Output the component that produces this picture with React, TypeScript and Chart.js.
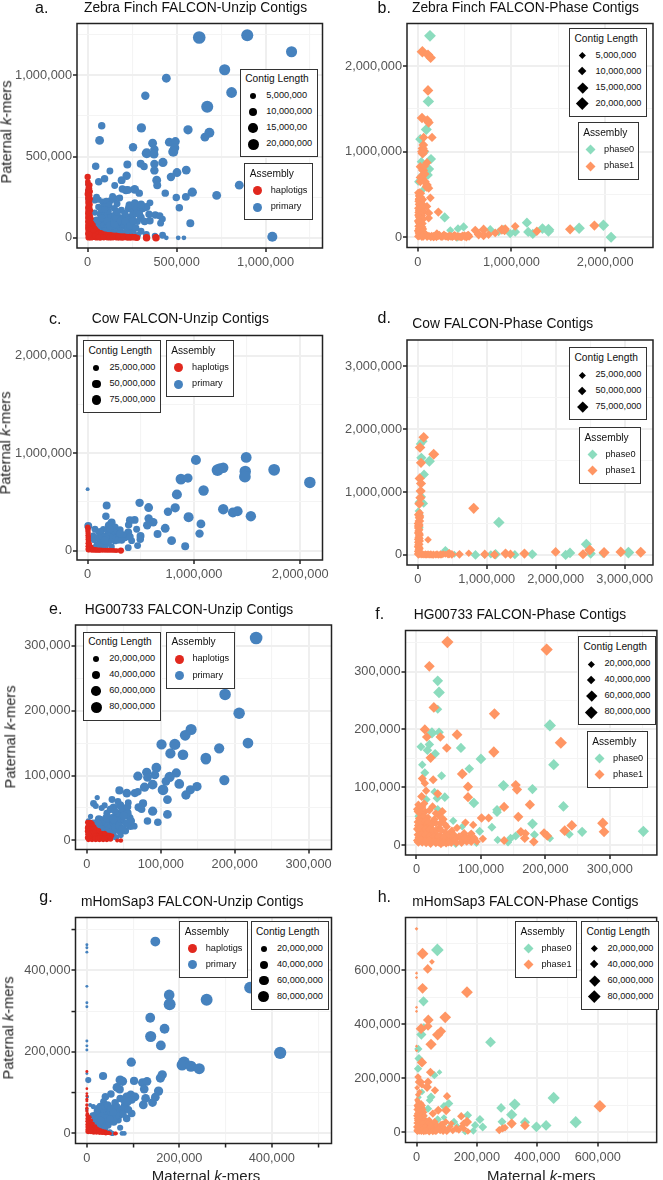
import React, { useEffect, useRef } from "react";
import Chart from "chart.js/auto";

type P = number[];
// every point: [maternal k-mers (thousands), paternal k-mers (thousands), contig length (Mb)]
const zebraUnzipHaplotigs: P[] = [[0,375,4],[1,345,3],[2,330,3],[4,310,3],[3,290,4],[2,270,5],[6,262,4],[1,245,3],[3,230,3],[2,215,3],[4,200,3],[1,185,3],[5,175,3],[2,165,3],[3,150,4],[6,140,3],[2,130,3],[4,120,4],[8,110,3],[3,100,4],[10,95,3],[5,85,4],[15,80,3],[2,75,3],[8,70,4],[20,65,3],[3,60,4],[12,55,4],[25,50,3],[5,45,4],[35,45,3],[18,40,4],[45,38,3],[8,35,4],[28,30,4],[55,28,3],[3,25,4],[40,22,4],[70,22,3],[15,20,4],[60,15,4],[85,14,3],[25,12,4],[100,12,3],[45,10,4],[75,8,4],[120,10,3],[8,8,4],[35,5,4],[95,5,4],[110,3,4],[130,4,4],[150,3,3],[165,2,4],[180,2,4],[195,1,4],[210,2,3],[225,1,4],[240,1,4],[255,1,3],[268,1,4],[278,0,4],[331,0,6],[384,0,6],[5,2,4],[20,2,4],[50,2,4],[70,1,4],[90,1,3],[135,12,3],[155,10,3],[12,325,3],[10,305,3],[14,285,3],[11,262,3],[14,240,3],[10,222,3],[13,205,3],[11,188,3],[15,170,3],[10,152,3],[14,135,3],[18,120,3],[15,102,3],[22,90,3],[30,78,3],[26,62,3],[38,60,3],[20,50,3],[45,50,3],[30,42,3],[55,40,3],[65,32,3],[75,30,3],[50,22,3],[85,24,3],[100,22,3],[30,18,3],[115,18,3],[75,15,3],[130,18,3],[145,15,3],[160,15,3],[175,12,3],[190,10,3],[205,10,3],[220,8,3],[235,8,3],[250,7,3],[265,6,3],[10,20,3],[40,12,3],[60,5,3],[85,4,3],[125,2,4],[142,3,4],[170,7,3],[200,6,3],[230,5,3],[260,3,3]];
const zebraUnzipPrimary: P[] = [[627,1234,20],[897,1248,18],[1146,1146,15],[770,1035,15],[442,983,9],[324,875,8],[809,895,14],[672,807,18],[79,690,6],[302,677,10],[67,600,9],[564,665,10],[684,647,12],[659,620,9],[255,558,8],[365,583,9],[459,589,9],[493,593,9],[489,554,10],[481,530,12],[375,544,8],[332,521,12],[373,515,9],[223,452,7],[45,441,6],[298,456,7],[317,439,6],[375,454,8],[423,464,10],[375,415,8],[502,402,9],[554,417,9],[468,374,8],[125,411,5],[219,382,8],[191,355,7],[95,363,6],[62,345,6],[152,322,5],[388,355,9],[391,324,7],[852,324,9],[264,298,9],[215,293,7],[290,275,6],[436,275,6],[588,281,10],[552,252,7],[498,248,6],[725,261,9],[515,185,6],[577,90,7],[1038,6,12],[421,16,5],[442,0,2],[509,0,2],[541,0,2],[378,12,4],[130,230,5],[40,230,4],[62,235,4],[85,220,5],[105,225,5],[150,240,6],[180,245,5],[60,190,4],[90,195,4],[120,200,5],[150,180,5],[190,170,5],[230,180,6],[250,170,5],[270,190,7],[290,165,6],[310,180,6],[330,190,7],[350,215,5],[380,140,6],[405,135,6],[420,115,5],[300,125,6],[320,100,6],[240,130,5],[255,140,6],[275,150,6],[295,135,5],[40,155,4],[70,145,5],[100,150,6],[105,125,7],[130,135,5],[155,140,6],[180,125,5],[205,120,7],[225,110,5],[50,110,5],[75,100,6],[95,95,7],[120,90,7],[145,105,6],[170,85,7],[190,95,5],[205,75,6],[250,90,6],[65,75,6],[85,70,6],[110,60,7],[140,65,6],[165,55,6],[185,45,5],[250,50,6],[255,30,5],[300,40,5],[330,20,5],[15,65,4],[20,40,5],[25,20,4],[35,55,4],[45,35,5],[60,45,6],[90,35,5],[120,30,5],[190,25,5],[100,45,5],[130,50,5],[155,35,5],[10,15,3],[60,15,3],[2,330,3],[3,290,4],[2,240,3],[30,100,6],[45,85,6],[55,60,6],[80,120,6],[110,105,6],[125,75,7],[150,85,7],[160,120,6],[185,105,6],[210,100,6],[225,60,6],[240,75,6],[270,60,6],[280,100,5],[130,20,5],[165,25,5],[215,35,5],[75,175,5],[115,165,6],[165,160,6],[210,150,5],[235,200,7],[265,215,6],[300,205,7],[290,145,6],[165,210,5],[140,255,5],[195,300,6],[225,295,7],[345,145,6],[350,105,6],[410,90,5],[255,105,6],[210,20,5],[280,15,5],[230,25,5],[95,175,5],[50,250,5]];
const zebraPhase0: P[] = [[131,2356,14],[114,1589,13],[92,1260,12],[28,1147,10],[142,915,10],[124,798,9],[110,729,9],[5,650,6],[39,884,8],[288,232,10],[1165,170,10],[1179,62,10],[1228,39,10],[1331,101,11],[1395,89,14],[1395,70,12],[1722,105,13],[1981,140,13],[2063,0,12],[490,120,8],[430,100,7],[348,81,6],[419,-4,6],[774,89,8],[863,62,7],[1040,62,9],[987,43,8],[916,89,8],[60,560,5],[20,500,5],[40,720,6],[80,1000,6]];
const zebraPhase1: P[] = [[50,2170,13],[110,2135,11],[138,2100,11],[110,1717,11],[46,1395,11],[103,1368,10],[117,1341,10],[153,1167,8],[64,1167,8],[53,1039,10],[53,980,10],[99,872,8],[28,825,8],[53,787,8],[46,709,9],[28,651,8],[99,612,9],[117,574,8],[135,461,7],[220,295,8],[117,283,8],[99,360,7],[117,225,7],[614,81,8],[703,89,10],[650,31,9],[703,23,9],[756,31,7],[827,50,7],[898,89,10],[934,97,8],[927,78,8],[1040,128,7],[1271,70,8],[1626,93,10],[1885,136,10],[20,530,5],[8,490,4],[35,470,6],[12,440,6],[30,410,5],[5,385,4],[25,360,6],[45,330,6],[10,310,5],[30,280,6],[50,250,5],[15,230,6],[35,200,6],[8,170,5],[25,150,6],[50,120,6],[15,100,7],[30,75,7],[70,55,5],[10,60,6],[40,35,7],[90,30,6],[20,20,7],[60,10,7],[120,15,6],[150,20,5],[185,15,6],[205,45,6],[220,15,6],[250,5,6],[280,30,6],[310,10,6],[340,20,6],[370,5,6],[395,25,6],[425,12,6],[455,5,6],[480,20,6],[505,8,6],[530,18,7],[548,10,7],[5,10,6],[3,260,5],[60,440,5],[70,300,5],[2,450,3],[5,520,6],[40,515,5],[15,480,6],[45,430,6],[8,420,6],[50,390,6],[20,380,7],[40,350,6],[5,340,6],[20,320,7],[55,300,6],[8,290,6],[40,260,6],[12,250,7],[30,225,6],[55,210,7],[5,190,7],[30,175,7],[50,160,7],[10,130,7],[35,120,7],[55,95,7],[25,90,7],[5,75,7],[45,65,7],[70,30,7],[15,40,7],[45,10,8],[100,8,7],[140,5,7],[170,5,7],[200,5,7],[230,25,7],[265,10,7],[295,12,7],[325,5,7],[355,10,7],[385,15,7],[410,5,7],[440,8,7],[470,5,7],[500,15,8],[520,5,8],[540,25,7],[60,780,9],[75,740,9],[30,700,9],[50,680,9],[70,830,8],[95,590,9],[80,650,8],[60,1080,9],[45,1000,9],[70,1010,8],[170,8,8],[205,18,8]];
const cowUnzipHaplotigs: P[] = [[1,240,14],[2,215,12],[1,195,10],[3,175,10],[1,155,10],[3,135,10],[2,115,10],[5,95,10],[12,85,6],[2,75,10],[6,60,10],[20,55,6],[2,45,10],[10,35,10],[30,30,6],[5,20,12],[22,15,10],[45,12,8],[12,5,10],[35,4,10],[60,5,10],[80,3,10],[100,3,10],[120,2,10],[140,3,10],[160,2,10],[180,2,10],[200,2,10],[220,2,10],[240,2,10],[258,1,10],[275,1,10],[313,1,20],[8,225,8],[7,205,8],[9,185,8],[8,165,8],[10,145,8],[9,125,8],[12,105,8],[10,85,8],[20,75,8],[15,65,8],[25,45,8],[35,40,8],[15,22,8],[40,20,8],[55,18,8],[70,15,8],[85,12,8],[105,10,8],[125,10,8],[145,8,8],[165,8,8],[190,7,8],[210,6,8],[235,5,8],[5,10,12],[50,3,10],[70,4,10],[90,4,10],[110,4,10]];
const cowUnzipPrimary: P[] = [[2091,701,81],[1755,831,85],[1492,958,70],[1483,814,80],[1480,760,85],[1019,931,60],[1222,828,85],[1276,852,65],[1245,842,70],[878,735,70],[944,746,50],[840,577,60],[1091,618,65],[824,440,50],[756,399,40],[1276,426,65],[1367,392,60],[1411,405,60],[1536,354,65],[950,344,60],[1066,275,45],[1053,175,40],[730,230,45],[790,103,45],[918,45,35],[658,172,35],[574,443,45],[489,491,40],[179,464,35],[172,354,30],[574,330,40],[618,292,40],[561,261,40],[442,316,35],[398,313,35],[386,265,30],[461,220,25],[498,151,35],[495,117,30],[470,52,25],[382,31,25],[0,632,6],[226,289,35],[201,258,40],[257,241,30],[304,213,30],[273,172,30],[219,175,30],[122,186,25],[69,220,25],[6,254,35],[100,196,20],[147,220,20],[304,144,35],[351,134,30],[382,186,35],[414,103,25],[398,144,30],[257,100,25],[210,110,30],[147,82,25],[116,93,25],[85,58,20],[53,161,15],[163,155,20],[226,41,20],[132,41,20],[194,76,25],[40,130,25],[60,110,20],[90,140,20],[110,120,25],[130,150,25],[175,130,30],[195,190,25],[160,105,30],[240,140,30],[265,125,30],[285,110,30],[320,110,30],[335,165,25],[305,175,30],[240,205,25],[95,60,20],[170,35,15],[60,35,15],[120,200,20],[180,215,25],[210,220,30]];
const cowPhase0: P[] = [[73,1809,45],[39,1767,40],[53,1545,50],[169,1492,60],[92,1280,45],[53,926,40],[87,820,35],[5,840,20],[24,434,35],[1176,518,65],[402,74,35],[837,0,45],[1128,11,55],[1408,5,40],[1660,11,50],[2144,0,50],[2207,32,55],[2444,169,60],[2507,21,50],[3054,37,70],[2686,21,35],[970,3,30],[530,10,20],[1060,10,30],[30,650,25],[10,700,25],[340,20,20]];
const cowPhase1: P[] = [[87,1873,55],[34,1709,55],[232,1603,60],[48,1465,50],[29,1217,50],[48,1137,50],[43,1016,50],[39,910,50],[24,815,50],[29,619,40],[24,540,45],[15,460,45],[24,317,40],[24,222,40],[150,243,25],[812,741,60],[740,26,25],[605,11,35],[459,21,40],[972,11,40],[1113,5,40],[1273,21,50],[1345,11,40],[1547,21,50],[1999,48,45],[2396,11,50],[2493,79,60],[2701,37,60],[2943,48,55],[3232,42,60],[10,380,30],[15,280,35],[8,160,30],[20,120,35],[12,80,30],[25,40,35],[10,15,40],[50,8,30],[90,3,25],[130,5,25],[170,4,25],[208,0,25],[260,3,25],[305,0,25],[350,4,25],[400,10,20],[20,590,35],[10,500,30],[30,670,30],[8,640,35],[30,590,35],[5,500,35],[22,480,35],[5,430,30],[25,400,30],[8,350,35],[25,340,30],[8,250,35],[28,260,30],[5,200,30],[22,170,35],[6,130,35],[25,100,35],[8,55,35],[25,20,35],[70,12,30],[110,8,30],[150,8,30],[190,10,30],[230,6,30],[280,8,30],[330,8,30],[370,15,25],[440,12,35],[495,8,35]];
const hgUnzipHaplotigs: P[] = [[2,26,8],[6,24,8],[1,22,8],[5,20,8],[10,21,7],[2,17,8],[7,16,8],[12,18,7],[3,13,8],[9,12,8],[15,14,8],[1,9,8],[6,9,8],[12,9,8],[18,10,8],[24,10,7],[30,8,6],[3,5,8],[8,5,8],[14,5,8],[20,5,8],[26,5,8],[32,5,6],[2,1,8],[7,1,8],[12,1,8],[17,1,8],[22,1,8],[27,1,8],[30,2,6],[41,0,5],[46,0,7],[1,28,10],[5,28,10],[3,25,12],[7,26,10],[1,19,12],[4,22,12],[8,22,10],[11,15,12],[3,18,12],[6,18,12],[9,18,12],[14,12,12],[16,15,10],[1,14,12],[4,15,12],[7,13,12],[10,12,12],[13,8,12],[16,7,12],[19,7,12],[22,7,12],[25,8,12],[28,8,10],[31,8,8],[1,4,12],[4,3,12],[7,7,12],[10,7,12],[5,11,12],[11,3,12],[15,3,12],[18,3,12],[21,4,12],[24,3,12],[28,4,12],[31,4,12],[2,10,12],[20,11,10],[24,11,10],[32,2,10],[34,7,8]];
const hgUnzipPrimary: P[] = [[229,312,80],[187,225,65],[206,196,65],[218,150,55],[141,171,60],[133,162,55],[101,148,50],[119,148,60],[113,134,50],[130,132,55],[179,142,50],[161,127,55],[161,125,50],[186,93,50],[94,112,45],[81,105,40],[69,99,40],[82,97,35],[92,101,35],[121,104,40],[112,98,50],[107,91,35],[125,87,45],[89,86,45],[78,82,40],[103,78,55],[140,78,40],[134,70,40],[149,83,40],[44,77,30],[54,73,35],[65,73,30],[69,75,25],[109,63,35],[76,57,30],[34,63,20],[14,66,10],[56,58,20],[9,57,20],[12,53,15],[24,54,15],[20,50,15],[36,51,25],[45,54,30],[70,51,30],[74,48,25],[89,45,40],[109,40,35],[82,30,25],[96,28,25],[52,44,40],[40,38,30],[58,35,25],[47,31,30],[59,22,25],[52,15,25],[45,13,20],[5,37,10],[16,33,25],[34,35,25],[54,26,30],[2,30,10],[30,25,25],[42,24,25],[25,20,25],[36,14,25],[20,25,20],[12,28,15],[43,42,25],[30,30,25],[38,5,12],[8,27,20],[14,22,25],[18,32,25],[22,28,25],[26,35,25],[28,22,25],[32,20,25],[36,27,25],[38,20,25],[40,30,25],[44,22,25],[48,18,25],[16,25,25],[24,16,25],[20,17,25],[30,12,25],[35,10,20],[27,42,20],[32,48,25],[42,60,20],[48,48,25],[55,42,30],[50,38,30],[38,45,20],[60,30,25],[64,22,20],[46,8,12],[40,5,12],[55,52,25],[36,32,25]];
const hgPhase0: P[] = [[33,284,45],[35,264,55],[33,235,30],[24,194,50],[35,195,35],[20,174,35],[7,170,30],[17,164,35],[29,158,35],[69,168,40],[100,149,45],[207,207,60],[213,139,50],[9,139,25],[13,125,30],[82,132,35],[39,120,30],[135,103,50],[180,97,40],[89,73,45],[228,67,45],[44,83,35],[28,92,25],[32,81,30],[15,79,30],[33,62,25],[125,61,35],[125,57,35],[57,42,25],[117,31,30],[180,37,45],[183,18,30],[257,23,40],[237,19,30],[352,24,50],[207,12,25],[126,9,25],[146,12,30],[154,16,30],[142,5,25],[98,24,30],[93,2,10],[61,1,15],[71,32,20],[30,25,20],[2,50,15],[18,10,15]];
const hgPhase1: P[] = [[48,351,60],[202,338,60],[20,309,45],[27,238,45],[121,227,50],[13,200,40],[16,187,35],[37,187,35],[63,191,45],[47,168,35],[22,151,40],[120,161,50],[224,177,60],[71,123,45],[9,115,30],[13,107,25],[26,113,30],[15,94,25],[8,84,30],[33,89,30],[80,101,40],[80,83,40],[154,104,40],[156,96,40],[176,70,40],[136,66,40],[158,49,40],[101,47,35],[112,47,30],[40,58,30],[25,67,25],[241,34,45],[230,25,45],[289,38,50],[291,23,45],[76,39,25],[88,35,25],[162,23,35],[169,20,30],[168,12,35],[182,6,35],[198,21,35],[203,16,35],[136,8,30],[103,11,25],[3,70,25],[6,64,30],[2,58,25],[8,52,25],[14,58,20],[4,46,25],[11,44,25],[18,48,20],[26,42,25],[3,34,30],[9,35,30],[16,36,25],[22,30,25],[35,30,25],[47,32,25],[5,24,30],[12,24,30],[19,22,30],[28,20,30],[37,16,30],[45,22,25],[55,25,25],[63,30,25],[4,13,30],[10,14,30],[17,12,30],[24,11,30],[32,9,30],[40,8,30],[48,10,30],[56,12,25],[66,15,25],[74,20,30],[82,14,30],[90,12,25],[3,5,30],[9,5,30],[15,4,30],[22,3,30],[30,4,30],[38,2,25],[46,3,25],[54,4,25],[70,4,25],[78,6,25],[42,45,25],[1,62,25],[5,58,25],[9,66,25],[12,50,25],[2,40,25],[7,40,25],[14,42,25],[19,40,25],[24,36,25],[30,38,25],[37,38,25],[44,36,25],[1,28,25],[7,30,25],[14,28,25],[20,27,25],[26,26,25],[32,26,25],[38,26,25],[50,18,25],[58,18,25],[2,18,25],[8,19,25],[14,18,25],[20,16,25],[27,15,25],[34,15,25],[42,14,25],[60,10,25],[70,10,25],[78,12,25],[85,20,25],[1,8,25],[7,9,25],[13,8,25],[19,8,25],[26,7,25],[34,5,25],[42,5,25],[50,5,25],[62,4,25],[75,12,25],[94,6,20],[85,5,20],[36,50,25],[30,55,25],[20,60,25],[12,72,25],[28,45,25]];
const homUnzipHaplotigs: P[] = [[0,152,2],[0,110,1.5],[0,98,1.5],[0,92,2],[0,70,3],[0,62,3],[1,48,4],[3,42,5],[1,36,5],[5,34,5],[2,28,5],[8,26,5],[1,22,5],[5,20,5],[12,18,5],[3,14,5],[9,14,5],[16,12,5],[1,9,5],[6,8,5],[12,7,5],[20,8,5],[3,3,5],[9,3,5],[15,2,5],[21,2,5],[27,2,5],[32,2,5],[38,1,5],[44,1,5],[61,0,5],[63,0,4],[26,5,5],[1,44,5],[6,40,5],[3,32,5],[9,32,5],[13,24,5],[1,30,5],[18,18,5],[22,12,5],[26,10,5],[30,8,5],[35,6,5],[40,5,5],[5,27,5],[10,22,5],[15,14,5],[19,12,5],[3,20,5],[7,14,5],[11,10,5],[24,6,5],[30,4,5],[36,3,5],[42,3,5],[46,2,5],[1,16,5],[1,4,5],[5,4,5],[12,3,5],[17,6,5],[4,10,5],[8,6,5],[28,2,5],[34,1,5],[41,0,5],[47,1,5],[50,0,4],[0,55,3],[0,80,2],[0,84,2]];
const homUnzipPrimary: P[] = [[418,198,75],[148,471,45],[353,358,70],[259,328,70],[178,340,55],[179,317,70],[137,284,45],[138,238,60],[168,257,45],[160,216,45],[96,175,40],[210,174,70],[206,168,60],[225,165,60],[243,159,60],[35,141,30],[3,131,15],[163,144,40],[159,136,40],[72,131,40],[77,128,40],[102,129,30],[120,125,35],[130,128,35],[124,109,35],[65,113,35],[71,108,30],[155,104,40],[127,86,35],[148,89,35],[142,76,35],[122,70,35],[95,94,40],[86,90,35],[104,90,35],[97,82,25],[72,86,25],[52,97,25],[40,90,25],[61,75,25],[83,70,35],[76,59,30],[97,49,25],[86,37,25],[65,53,25],[54,41,25],[68,33,20],[36,78,20],[29,66,25],[43,57,25],[14,66,10],[7,70,5],[0,59,3],[1,90,3],[55,0,10],[72,14,15],[76,0,8],[81,0,8],[50,4,10],[18,37,20],[25,45,25],[32,37,30],[43,29,25],[22,20,20],[36,16,15],[30,55,25],[47,45,25],[0,463,2],[0,456,2],[0,445,2],[0,361,2],[0,321,2],[0,311,2],[0,227,2],[0,215,2],[0,205,2],[0,147,2],[12,30,15],[20,28,20],[28,25,25],[35,28,25],[38,45,25],[25,38,25],[18,45,20],[30,45,25],[40,38,25],[48,28,20],[28,18,20],[46,20,20],[40,8,15],[58,28,25],[62,42,25],[70,45,25],[35,60,25],[22,55,20],[38,68,25],[45,70,25],[52,62,25],[78,48,25],[90,58,25],[80,82,25],[88,78,30],[65,65,25],[57,52,25],[20,35,20],[12,45,12],[33,5,10],[38,15,15],[30,32,25],[50,35,25],[25,62,20]];
const homPhase0: P[] = [[69,675,65],[23,485,40],[245,334,45],[16,362,40],[24,389,25],[6,309,25],[8,274,30],[5,236,25],[76,223,10],[59,212,25],[454,128,60],[325,104,55],[280,91,35],[315,66,50],[283,40,30],[359,38,40],[397,21,45],[429,26,45],[527,38,60],[107,107,30],[91,97,25],[48,131,30],[43,119,20],[38,88,25],[169,64,30],[210,48,30],[219,20,30],[194,27,25],[188,6,20],[124,39,25],[70,48,25],[91,55,15],[161,2,15],[18,150,15],[8,130,10],[25,60,15],[30,15,15],[45,8,15],[65,22,15],[80,6,10],[3,60,10],[14,12,10],[110,25,10],[135,25,10]];
const homPhase1: P[] = [[20,661,55],[37,605,35],[51,631,10],[20,533,45],[167,519,55],[95,426,55],[39,416,45],[38,393,30],[15,384,45],[81,374,40],[70,361,50],[48,326,50],[18,259,40],[46,223,30],[5,205,20],[11,187,40],[38,187,30],[35,168,35],[61,156,25],[101,134,25],[98,82,35],[72,82,30],[54,70,25],[0,753,3],[0,589,2],[0,573,2],[0,463,2],[0,448,2],[0,319,2],[0,303,2],[607,97,65],[148,60,25],[167,39,40],[156,33,25],[315,33,40],[359,26,35],[274,9,25],[285,15,25],[293,18,20],[115,33,15],[132,15,25],[156,15,20],[97,39,20],[81,27,30],[59,27,30],[38,21,30],[5,115,12],[12,105,15],[3,95,15],[10,85,20],[18,92,15],[25,75,15],[4,70,20],[12,62,20],[20,50,20],[5,45,25],[14,35,25],[28,30,25],[4,22,25],[12,14,25],[22,10,25],[34,8,25],[48,12,25],[62,6,25],[76,15,25],[88,5,20],[102,8,20],[3,5,20],[120,6,15],[170,4,15],[42,45,20],[2,120,12],[7,110,15],[15,108,15],[1,100,15],[7,98,15],[14,98,20],[20,100,15],[2,85,20],[8,78,20],[16,78,20],[22,85,15],[1,62,20],[7,60,20],[18,65,20],[26,62,15],[3,52,20],[10,50,20],[16,42,20],[26,45,20],[34,42,20],[2,35,20],[8,30,20],[20,32,20],[38,35,20],[48,30,20],[60,40,20],[1,20,20],[7,16,20],[18,18,20],[28,18,20],[38,12,20],[48,22,20],[58,15,20],[68,25,20],[2,8,20],[9,6,20],[16,5,20],[24,4,20],[30,6,20],[42,3,20],[54,4,20],[66,6,20],[78,8,20],[90,18,20],[105,12,20],[112,22,15],[140,8,15],[150,22,15],[86,30,20],[70,12,20],[100,3,15],[5,140,12],[10,150,12],[2,165,10],[18,175,15]];

const COLORS = { haplotigs: "#E1281E", primary: "#4682BE", phase0: "#8CDCBE", phase1: "#FF9664" };
const assemblyUnzip = ["haplotigs", "primary"];
const assemblyPhase = ["phase0", "phase1"];
const legendZebra = [5, 10, 15, 20];
const legendCow = [25, 50, 75];
const legendHuman = [20, 40, 60, 80];
const fmt = (n: number) => n.toLocaleString("en-US");

const PANELS: any[] = [
  { letter: "a.", title: "Zebra Finch FALCON-Unzip Contigs", lx: 35, ly: 8, tx: 84, ty: 7.5, box: [77, 23.5, 322.5, 248], xr: [-60, 1320], yr: [-63, 1320], xMajor: [0, 500, 1000], xMinor: [250, 750, 1250], yMajor: [0, 500, 1000], yMinor: [250, 750, 1250], top: zebraUnzipHaplotigs, bottom: zebraUnzipPrimary, kinds: assemblyUnzip, maxLen: 20, sizes: [68.7, 240, 77.5, 88.5], sizeVals: legendZebra, labelOverride: { 15: "15,000,00" }, asm: [163.3, 244.3, 69, 56.7], yTitle: [7, 132] },
  { letter: "b.", title: "Zebra Finch FALCON-Phase Contigs", lx: 377.5, ly: 8, tx: 412, ty: 7.5, box: [407, 23.5, 653, 247.5], xr: [-114, 2510], yr: [-120, 2500], xMajor: [0, 1000, 2000], xMinor: [500, 1500, 2500], yMajor: [0, 1000, 2000], yMinor: [500, 1500, 2500], top: zebraPhase1, bottom: zebraPhase0, kinds: assemblyPhase, maxLen: 20, sizes: [28, 569.3, 77.7, 89], sizeVals: legendZebra, asm: [122.3, 577.7, 61.6, 57.7] },
  { letter: "c.", title: "Cow FALCON-Unzip Contigs", lx: 49, ly: 319, tx: 91.7, ty: 319.3, box: [77, 335.5, 322.5, 560], xr: [-100, 2210], yr: [-96, 2210], xMajor: [0, 1000, 2000], xMinor: [500, 1500], yMajor: [0, 1000, 2000], yMinor: [500, 1500], top: cowUnzipHaplotigs, bottom: cowUnzipPrimary, kinds: assemblyUnzip, maxLen: 100, sizes: [340.3, 83.3, 78, 73], sizeVals: legendCow, asm: [340.3, 165.7, 68.6, 57], yTitle: [6, 443] },
  { letter: "d.", title: "Cow FALCON-Phase Contigs", lx: 377.5, ly: 318.3, tx: 412.3, ty: 324, box: [407, 340, 653, 565], xr: [-155, 3410], yr: [-160, 3420], xMajor: [0, 1000, 2000, 3000], xMinor: [500, 1500, 2500], yMajor: [0, 1000, 2000, 3000], yMinor: [500, 1500, 2500], top: cowPhase1, bottom: cowPhase0, kinds: assemblyPhase, maxLen: 100, sizes: [347.3, 569.3, 77.7, 73], sizeVals: legendCow, asm: [427, 579, 61.7, 57.3] },
  { letter: "e.", title: "HG00733 FALCON-Unzip Contigs", lx: 49, ly: 609.3, tx: 84.7, ty: 610, box: [75.5, 625, 331.5, 849.5], xr: [-15.4, 331], yr: [-14, 332], xMajor: [0, 100, 200, 300], xMinor: [50, 150, 250], yMajor: [0, 100, 200, 300], yMinor: [50, 150, 250], top: hgUnzipHaplotigs, bottom: hgUnzipPrimary, kinds: assemblyUnzip, maxLen: 80, sizes: [631.7, 83, 78.3, 89.3], sizeVals: legendHuman, asm: [631.7, 166, 68.7, 57.3], yTitle: [11, 737] },
  { letter: "f.", title: "HG00733 FALCON-Phase Contigs", lx: 375.3, ly: 614.3, tx: 413.7, ty: 615, box: [405.5, 630.5, 662.5, 855], xr: [-17, 373], yr: [-17, 371], xMajor: [0, 100, 200, 300], xMinor: [50, 150, 250, 350], yMajor: [0, 100, 200, 300], yMinor: [50, 150, 250, 350], top: hgPhase1, bottom: hgPhase0, kinds: assemblyPhase, maxLen: 80, sizes: [636.3, 578.3, 77.7, 89], sizeVals: legendHuman, asm: [731, 586.7, 61.6, 57.3] },
  { letter: "g.", title: "mHomSap3 FALCON-Unzip Contigs", lx: 39.3, ly: 897.3, tx: 81, ty: 902.3, box: [75.5, 917.5, 331.5, 1143.5], xr: [-24.6, 529], yr: [-24.6, 530], xMajor: [0, 200, 400], xMinor: [100, 300, 500], yMajor: [0, 200, 400], yMinor: [100, 300, 500], minorTicks: true, top: homUnzipHaplotigs, bottom: homUnzipPrimary, kinds: assemblyUnzip, maxLen: 80, sizes: [921, 250.7, 78, 89], sizeVals: legendHuman, asm: [921, 179.3, 68.4, 57], yTitle: [9, 1028], xTitle: [206, 1174.5] },
  { letter: "h.", title: "mHomSap3 FALCON-Phase Contigs", lx: 377.7, ly: 896.7, tx: 412.3, ty: 902.3, box: [405.5, 917.5, 662.5, 1142.5], xr: [-36.5, 795], yr: [-37, 795], xMajor: [0, 200, 400, 600], xMinor: [100, 300, 500, 700], yMajor: [0, 200, 400, 600], yMinor: [100, 300, 500, 700], top: homPhase1, bottom: homPhase0, kinds: assemblyPhase, maxLen: 80, sizes: [921, 581.3, 77.7, 89], sizeVals: legendHuman, asm: [921, 515, 62, 57.3], xTitle: [541.3, 1174.5] },
];

const FONT = '"Liberation Sans", Arial, sans-serif';
const radius = (len: number, maxLen: number) => 0.5 + 5 * Math.sqrt(len / maxLen);
const DIAMOND = 1.1;
const PLOT_SCALE = 1.15;

function Panel({ p }: { p: any }) {
  const ref = useRef<HTMLCanvasElement>(null);
  const [l, t, r, b] = p.box;
  const phase = p.kinds === assemblyPhase;
  const colLeft = l < 200 ? 0 : 335;
  const colRight = l < 200 ? 380 : 663;
  const cTop = Math.floor(t) - 20;
  const cH = Math.ceil(b) - cTop + 25;
  useEffect(() => {
    const axis = (range: number[], major: number[], minor: number[], isX: boolean) => {
      const isMajor = (v: number) => major.includes(v / 1000);
      return {
        type: "linear",
        min: range[0] * 1000,
        max: range[1] * 1000,
        afterBuildTicks: (s: any) => {
          s.ticks = [...major, ...minor].sort((a, c) => a - c).map((v) => ({ value: v * 1000 }));
        },
        afterFit: (s: any) => {
          if (isX) s.height = cTop + cH - b;
          else s.width = l - colLeft;
        },
        border: { display: false },
        grid: {
          drawOnChartArea: true,
          drawTicks: true,
          tickLength: 4,
          color: (c: any) => (isMajor(c.tick.value) ? "#EFEFEF" : "#F4F4F4"),
          lineWidth: (c: any) => (isMajor(c.tick.value) ? 2 : 1.1),
          tickColor: (c: any) => (isMajor(c.tick.value) || p.minorTicks ? "#222" : "rgba(0,0,0,0)"),
          tickWidth: 1.5,
        },
        ticks: {
          autoSkip: false,
          maxRotation: 0,
          minRotation: 0,
          padding: isX ? 3 : 1,
          color: "#555",
          font: { family: FONT, size: 12.8 },
          callback: (v: number) => (isMajor(v) ? fmt(v) : ""),
        },
      };
    };
    const toPts = (a: P[]) => a.map(([x, y, len]) => ({ x: x * 1000, y: y * 1000, len }));
    const mk = (pts: P[], kind: string) => ({
      label: kind,
      data: toPts(pts),
      backgroundColor: (COLORS as any)[kind],
      borderWidth: 0,
      pointStyle: phase ? "rectRot" : "circle",
      pointRadius: (c: any) => radius(c.raw.len, p.maxLen) * (phase ? DIAMOND : 1) * PLOT_SCALE,
    });
    const topKind = phase ? p.kinds[1] : p.kinds[0];
    const bottomKind = phase ? p.kinds[0] : p.kinds[1];
    const chart = new Chart(ref.current as any, {
      type: "scatter",
      data: { datasets: [mk(p.top, topKind), mk(p.bottom, bottomKind)] },
      options: {
        animation: false,
        responsive: false,
        events: [],
        layout: { padding: { left: 0, top: t - cTop, right: colRight - r, bottom: 0 } },
        plugins: { legend: { display: false }, tooltip: { enabled: false } },
        scales: { x: axis(p.xr, p.xMajor, p.xMinor, true), y: axis(p.yr, p.yMajor, p.yMinor, false) },
      } as any,
      plugins: [
        {
          id: "frame",
          afterDraw(ch: any) {
            const a = ch.chartArea;
            const g = ch.ctx;
            g.save();
            g.strokeStyle = "#222";
            g.lineWidth = 1.5;
            g.strokeRect(a.left, a.top, a.right - a.left, a.bottom - a.top);
            g.restore();
          },
        },
      ],
    } as any);
    return () => chart.destroy();
  }, []);
  const base: React.CSSProperties = { position: "absolute", whiteSpace: "nowrap", fontFamily: FONT, lineHeight: 1, color: "#111" };
  return (
    <>
      <canvas ref={ref} width={colRight - colLeft} height={cH} style={{ position: "absolute", left: colLeft, top: cTop, width: colRight - colLeft, height: cH }} />
      <div style={{ ...base, left: p.lx, top: p.ly, fontSize: 16, transform: "translateY(-50%)" }}>{p.letter}</div>
      <div style={{ ...base, left: p.tx, top: p.ty, fontSize: 13.8, transform: "translateY(-50%)" }}>{p.title}</div>
      {p.yTitle && (
        <div style={{ ...base, left: p.yTitle[0], top: p.yTitle[1], fontSize: 14.6, color: "#222", writingMode: "vertical-rl", transform: "translate(-50%,-50%) rotate(180deg)" }}>
          Paternal <i>k</i>-mers
        </div>
      )}
      {p.xTitle && (
        <div style={{ ...base, left: p.xTitle[0], top: p.xTitle[1], fontSize: 15, color: "#222", transform: "translate(-50%,-50%)" }}>
          Maternal <i>k</i>-mers
        </div>
      )}
      <SizeLegend p={p} phase={phase} base={base} />
      <AsmLegend p={p} phase={phase} base={base} />
    </>
  );
}

function Sym({ cx, cy, r, color, diamond }: { cx: number; cy: number; r: number; color: string; diamond: boolean }) {
  const s = diamond ? r * Math.SQRT2 : r * 2;
  return (
    <div style={{ position: "absolute", left: cx - s / 2, top: cy - s / 2, width: s, height: s, background: color, borderRadius: diamond ? 0 : "50%", transform: diamond ? "rotate(45deg)" : undefined }} />
  );
}

function boxStyle(top: number, left: number, w: number, h: number): React.CSSProperties {
  return { position: "absolute", left, top, width: w, height: h, boxSizing: "border-box", background: "#fff", border: "1.3px solid #333" };
}

function SizeLegend({ p, phase, base }: any) {
  const [top, left, w, h] = p.sizes;
  return (
    <div style={boxStyle(top, left, w, h)}>
      <div style={{ ...base, left: 4.2, top: 9.5, fontSize: 10.2, transform: "translateY(-50%)" }}>Contig Length</div>
      {p.sizeVals.map((v: number, i: number) => {
        const cy = 26.6 + i * 16;
        const rr = radius(v, p.maxLen) * (phase ? DIAMOND : 1);
        return (
          <React.Fragment key={v}>
            <Sym cx={12.2} cy={cy} r={rr} color="#000" diamond={phase} />
            <div style={{ ...base, left: 25.2, top: cy, fontSize: 9.2, transform: "translateY(-50%)" }}>{p.labelOverride?.[v] ?? fmt(v * 1000000)}</div>
          </React.Fragment>
        );
      })}
    </div>
  );
}

function AsmLegend({ p, phase, base }: any) {
  const [top, left, w, h] = p.asm;
  return (
    <div style={boxStyle(top, left, w, h)}>
      <div style={{ ...base, left: 4.5, top: 9.5, fontSize: 10.2, transform: "translateY(-50%)" }}>Assembly</div>
      {p.kinds.map((k: string, i: number) => {
        const cy = 26.6 + i * 16.3;
        return (
          <React.Fragment key={k}>
            <Sym cx={12.3} cy={cy} r={phase ? 5 : 4.5} color={(COLORS as any)[k]} diamond={phase} />
            <div style={{ ...base, left: 25.4, top: cy, fontSize: 9.2, transform: "translateY(-50%)" }}>{k}</div>
          </React.Fragment>
        );
      })}
    </div>
  );
}

export default function App() {
  return (
    <div style={{ position: "absolute", left: 0, top: 0, width: 663, height: 1180, overflow: "hidden", background: "#fff" }}>
      {PANELS.map((p) => (
        <Panel key={p.letter} p={p} />
      ))}
    </div>
  );
}
